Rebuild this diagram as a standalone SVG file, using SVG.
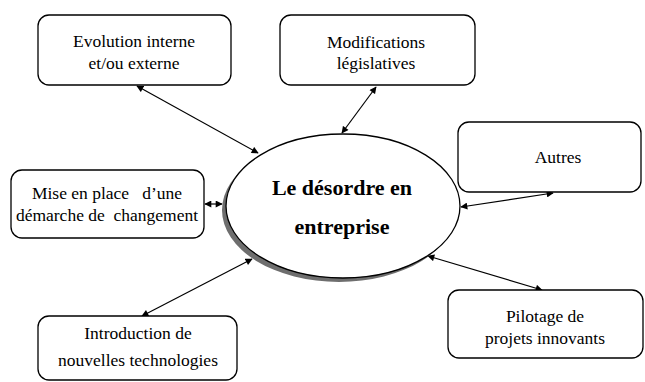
<svg xmlns="http://www.w3.org/2000/svg" width="645" height="382" viewBox="0 0 645 382">
<style>
.box{fill:#fff;stroke:#000;stroke-width:1.3}
.t{font-family:"Liberation Serif","Times New Roman",serif;font-size:17.5px;fill:#000;text-anchor:middle;white-space:pre}
.big{font-family:"Liberation Serif","Times New Roman",serif;font-size:22px;font-weight:bold;fill:#000;text-anchor:middle}
.c{stroke:#000;stroke-width:1.2;fill:none;marker-start:url(#a);marker-end:url(#a)}
</style>
<defs>
<marker id="a" viewBox="0 0 10 10" refX="9" refY="5" markerWidth="8" markerHeight="7" markerUnits="userSpaceOnUse" orient="auto-start-reverse">
<path d="M0,0 L10,5 L0,10 z" fill="#000"/>
</marker>
</defs>
<rect width="645" height="382" fill="#fff"/>
<g id="connectors">
<line class="c" x1="137" y1="86" x2="258" y2="153"/>
<line class="c" x1="376" y1="87" x2="342" y2="133"/>
<line class="c" x1="553" y1="193" x2="461" y2="207"/>
<line class="c" x1="205" y1="204" x2="222" y2="204"/>
<line class="c" x1="252" y1="259" x2="142" y2="316"/>
<line class="c" x1="428" y1="256" x2="542" y2="290"/>
</g>
<g id="center">
<ellipse cx="339" cy="210" rx="117" ry="72" fill="#6e6e6e"/>
<ellipse cx="343" cy="206" rx="117" ry="72" fill="#fff" stroke="#000" stroke-width="1.3"/>
<text class="big" x="342" y="195">Le désordre en</text>
<text class="big" x="342" y="234">entreprise</text>
</g>
<g id="evolution">
<rect class="box" x="38" y="15" width="193" height="70" rx="11"/>
<text class="t" x="134" y="47">Evolution interne</text>
<text class="t" x="134" y="69">et/ou externe</text>
</g>
<g id="modifications">
<rect class="box" x="280" y="15" width="195" height="70" rx="11"/>
<text class="t" x="376" y="48">Modifications</text>
<text class="t" x="376" y="69">législatives</text>
</g>
<g id="autres">
<rect class="box" x="458" y="122" width="183" height="70" rx="11"/>
<text class="t" x="558" y="163">Autres</text>
</g>
<g id="mise">
<rect class="box" x="11" y="170" width="193" height="68" rx="11"/>
<text class="t" x="107" y="199">Mise en place   d’une</text>
<text class="t" x="107" y="221">démarche de  changement</text>
</g>
<g id="introduction">
<rect class="box" x="38" y="316" width="199" height="64" rx="11"/>
<text class="t" x="138" y="339">Introduction de</text>
<text class="t" x="138" y="366">nouvelles technologies</text>
</g>
<g id="pilotage">
<rect class="box" x="448" y="290" width="195" height="68" rx="11"/>
<text class="t" x="545" y="322">Pilotage de</text>
<text class="t" x="545" y="344">projets innovants</text>
</g>
</svg>
